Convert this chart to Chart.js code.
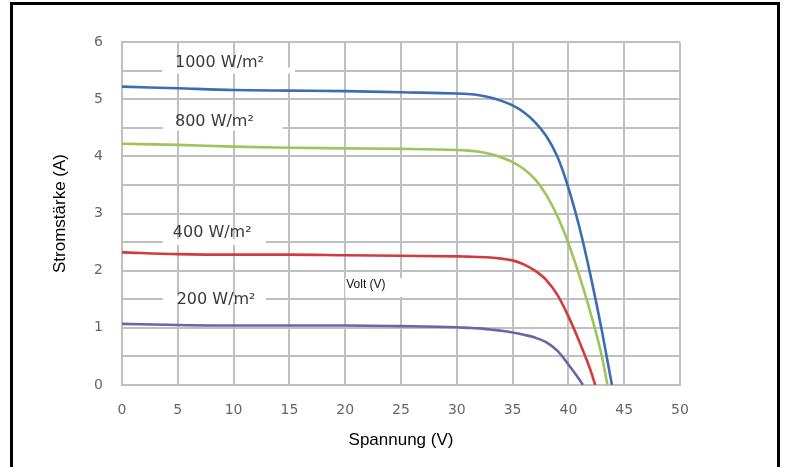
<!DOCTYPE html>
<html>
<head>
<meta charset="utf-8">
<script src="https://cdn.jsdelivr.net/npm/chart.js@4.4.1/dist/chart.umd.min.js"></script>
<style>
  html, body { margin: 0; padding: 0; background: #fff; }
  #wrap { position: relative; width: 787px; height: 467px; overflow: hidden; }
  #frame {
    position: absolute; left: 10px; top: 2px; width: 764px; height: 520px;
    border: 3px solid #000; pointer-events: none;
  }
</style>
</head>
<body>
<div id="wrap">
  <canvas id="ivChart" width="787" height="467"></canvas>
  <div id="frame"></div>
</div>
<script>
// I-V curves of a solar module at different irradiance levels
const irradianceLabels = ['1000 W/m²', '800 W/m²', '400 W/m²', '200 W/m²'];

const volt1000 = [0, 5, 10, 15, 20, 25, 30, 31, 32, 33, 34, 35, 36, 37, 38, 39, 40, 41, 42, 43, 43.9];
const amp1000  = [5.22, 5.19, 5.16, 5.15, 5.14, 5.12, 5.1, 5.09, 5.07, 5.03, 4.97, 4.89, 4.77, 4.6, 4.36, 4.0, 3.45, 2.75, 1.9, 0.95, 0];

const volt800 = [0, 5, 10, 15, 20, 25, 30, 31, 32, 33, 34, 35, 36, 37, 38, 39, 40, 41, 42, 43, 43.5];
const amp800  = [4.22, 4.2, 4.17, 4.15, 4.14, 4.13, 4.11, 4.1, 4.08, 4.04, 3.98, 3.9, 3.78, 3.6, 3.33, 2.96, 2.48, 1.9, 1.25, 0.5, 0];

const volt400 = [0, 5, 10, 15, 20, 25, 30, 31, 32, 33, 34, 35, 36, 37, 38, 39, 40, 41, 42, 42.4];
const amp400  = [2.32, 2.29, 2.28, 2.28, 2.27, 2.26, 2.25, 2.245, 2.24, 2.23, 2.21, 2.18, 2.11, 2.0, 1.84, 1.58, 1.2, 0.75, 0.25, 0];

const volt200 = [0, 5, 10, 15, 20, 25, 30, 31, 32, 33, 34, 35, 36, 37, 38, 39, 40, 41, 41.3];
const amp200  = [1.07, 1.05, 1.04, 1.04, 1.04, 1.03, 1.01, 1.0, 0.99, 0.97, 0.95, 0.92, 0.88, 0.83, 0.75, 0.6, 0.36, 0.09, 0];

const xTicks = [0, 5, 10, 15, 20, 25, 30, 35, 40, 45, 50];
const yTicks = [0, 1, 2, 3, 4, 5, 6];

function toPoints(volts, amps) {
    return volts.map((v, i) => ({ x: v, y: amps[i] }));
}

// where the irradiance labels sit (in axis units), and the white gap they cut in the grid
const labelPlacement = [
    { x: 4.75, level: 5.5, dy: -8, from: 3.6, to: 15.5 },
    { x: 4.75, level: 4.5, dy: -6, from: 3.65, to: 14.4 },
    { x: 4.55, level: 2.5, dy: -9, from: 3.65, to: 12.9 },
    { x: 4.9,  level: 1.5, dy: 1,  from: 3.65, to: 12.9 }
];

const irradianceLabelsPlugin = {
    id: 'irradianceLabels',
    beforeDatasetsDraw(chart) {
        const { ctx, scales: { x, y } } = chart;
        ctx.save();
        labelPlacement.forEach((p, i) => {
            const ly = y.getPixelForValue(p.level);
            const x0 = x.getPixelForValue(p.from);
            const x1 = x.getPixelForValue(p.to);
            ctx.fillStyle = '#fff';
            ctx.fillRect(x0, ly - 3, x1 - x0, 6);
            ctx.font = '16px "DejaVu Sans"';
            ctx.textBaseline = 'middle';
            ctx.fillStyle = '#3a3a3a';
            ctx.fillText(irradianceLabels[i], x.getPixelForValue(p.x), ly + p.dy);
        });

        // stray "Volt (V)" box left over in the source picture
        const bx0 = x.getPixelForValue(20), bx1 = x.getPixelForValue(29.6);
        const by0 = y.getPixelForValue(1.87), by1 = y.getPixelForValue(1.54);
        ctx.fillStyle = '#fff';
        ctx.fillRect(bx0, by0, bx1 - bx0, by1 - by0);
        ctx.font = '12px "Liberation Sans Narrow", "Liberation Sans", sans-serif';
        ctx.fillStyle = '#111';
        ctx.textBaseline = 'middle';
        ctx.fillText('Volt (V)', bx0 + 1, y.getPixelForValue(1.75));
        ctx.restore();
    }
};

const gridColor = '#c0c0c0';
const tickFont = { family: 'DejaVu Sans', size: 14 };
const titleFont = { family: '"Liberation Sans Narrow", "Liberation Sans", sans-serif', size: 17 };

function lineSet(label, data, color) {
    return {
        label: label,
        data: data,
        borderColor: color,
        backgroundColor: color,
        borderWidth: 2.6,
        pointRadius: 0,
        fill: false,
        cubicInterpolationMode: 'monotone'
    };
}

const ctx = document.getElementById('ivChart').getContext('2d');
const ivChart = new Chart(ctx, {
    type: 'line',
    data: {
        datasets: [
            lineSet(irradianceLabels[0], toPoints(volt1000, amp1000), '#3c6cb4'),
            lineSet(irradianceLabels[1], toPoints(volt800, amp800), '#9dc55a'),
            lineSet(irradianceLabels[2], toPoints(volt400, amp400), '#d23b3d'),
            lineSet(irradianceLabels[3], toPoints(volt200, amp200), '#6a64a8')
        ]
    },
    options: {
        responsive: false,
        animation: false,
        layout: {
            padding: { left: 46, top: 42, right: 107, bottom: 12 }
        },
        plugins: {
            legend: { display: false },
            tooltip: { enabled: false }
        },
        scales: {
            x: {
                type: 'linear',
                min: 0,
                max: 50,
                afterFit: (scale) => { scale.height = 70; },
                afterBuildTicks: (scale) => { scale.ticks = xTicks.map(v => ({ value: v })); },
                grid: { color: gridColor, lineWidth: 2, drawTicks: false },
                border: { color: gridColor, width: 2 },
                ticks: { color: '#666', font: tickFont, padding: 17, maxRotation: 0 },
                title: { display: true, text: 'Spannung (V)', color: '#000', font: titleFont, padding: 4 }
            },
            y: {
                min: 0,
                max: 6,
                afterFit: (scale) => { scale.width = 76; },
                ticks: {
                    stepSize: 0.5,
                    color: '#666',
                    font: tickFont,
                    padding: 19,
                    callback: (v) => (yTicks.includes(v) ? String(v) : '')
                },
                grid: { color: gridColor, lineWidth: 2, drawTicks: false },
                border: { color: gridColor, width: 2 },
                title: { display: true, text: 'Stromstärke (A)', color: '#000', font: titleFont, padding: 4 }
            }
        }
    },
    plugins: [irradianceLabelsPlugin]
});
</script>
</body>
</html>
